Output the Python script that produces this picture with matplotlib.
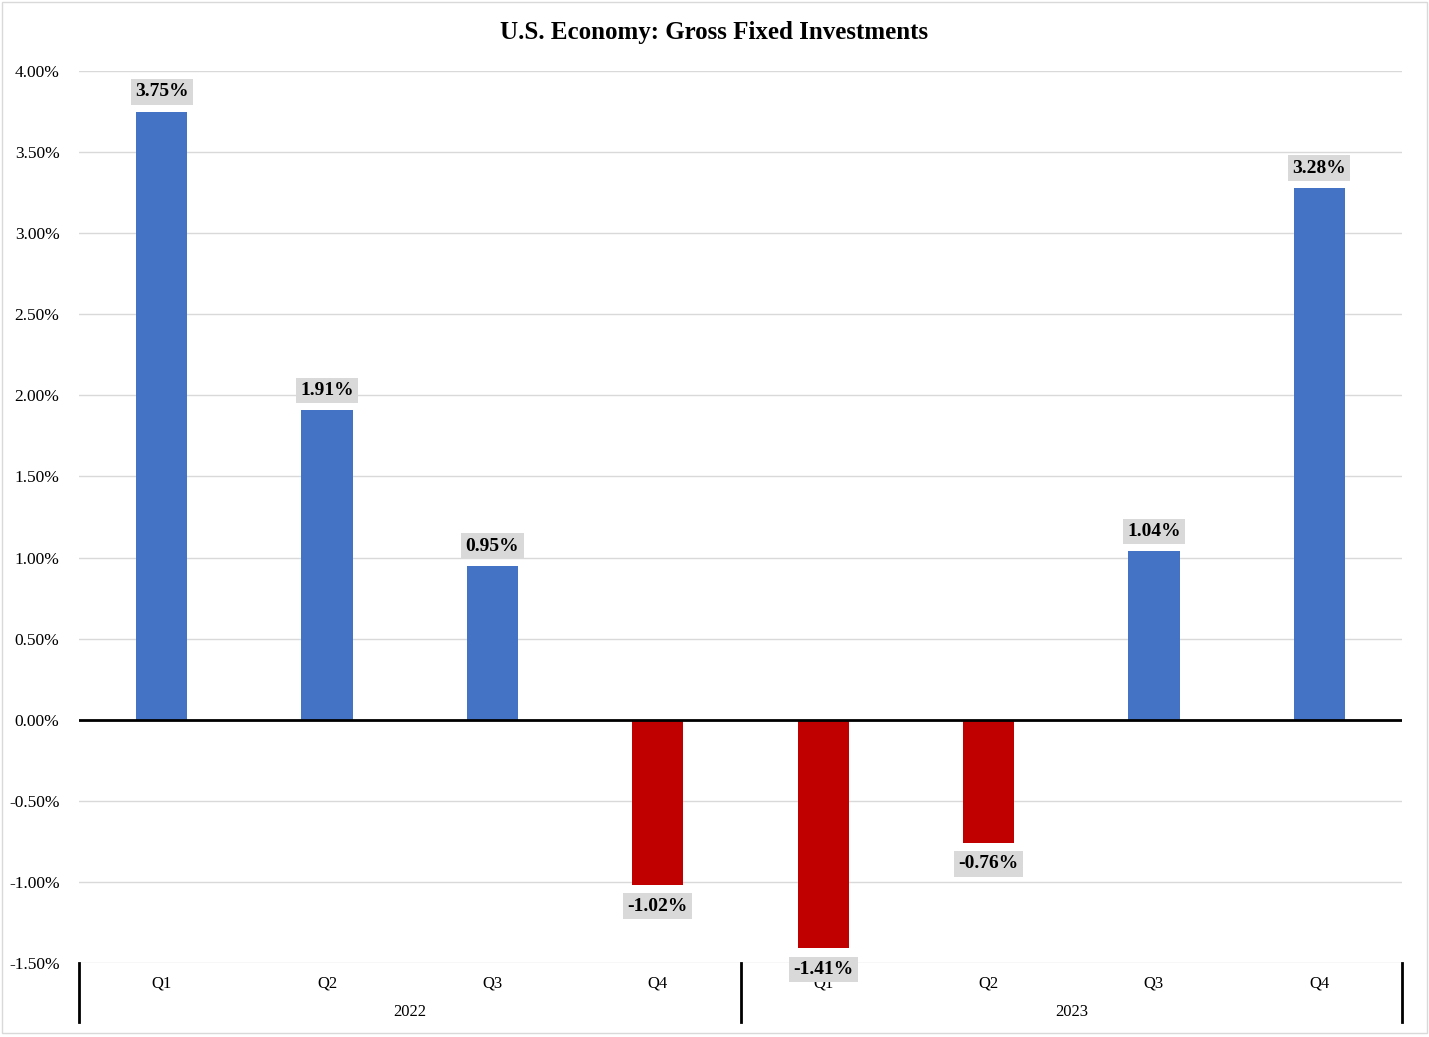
import matplotlib
matplotlib.use("Agg")
import matplotlib.pyplot as plt
from matplotlib.ticker import FuncFormatter
import matplotlib.patches as mpatches

quarters = ["Q1", "Q2", "Q3", "Q4", "Q1", "Q2", "Q3", "Q4"]
years = ["2022", "2023"]
values = [3.75, 1.91, 0.95, -1.02, -1.41, -0.76, 1.04, 3.28]
title = "U.S. Economy: Gross Fixed Investments"

plt.rcParams['font.family'] = ['Liberation Serif', 'DejaVu Serif']

fig = plt.figure(figsize=(14.29, 10.37), dpi=100)
ax = fig.add_axes([79/1429, 1-963/1037, (1402-79)/1429, (963-71)/1037])

x = list(range(len(values)))
colors = ["#4472c4" if v >= 0 else "#c00000" for v in values]
ax.bar(x, values, width=0.31, color=colors, zorder=3)

ax.set_xlim(-0.5, len(values) - 0.5)
ax.set_ylim(-1.5, 4.0)
ax.set_yticks([i * 0.5 for i in range(-3, 9)])
ax.yaxis.set_major_formatter(FuncFormatter(lambda v, p: f"{v:.2f}%"))
ax.tick_params(axis='y', length=0, labelsize=12.5, pad=14)
ax.grid(axis='y', color='#d9d9d9', linewidth=1, zorder=0)
ax.set_xticks([])
for s in ax.spines.values():
    s.set_visible(False)
ax.axhline(0, color='black', linewidth=2, zorder=4)

trans = ax.get_xaxis_transform()
for xi, q in enumerate(quarters):
    ax.text(xi, -20/892, q, transform=trans, ha='center', va='center', fontsize=12, clip_on=False, zorder=1)
for j, yr in enumerate(years):
    ax.text(j * 4 + 1.5, -49/892, yr, transform=trans, ha='center', va='center', fontsize=12, clip_on=False)
for xs in [-0.5, 3.5, 7.5]:
    ax.plot([xs, xs], [0, -59/892], transform=trans, color='black', linewidth=2, clip_on=False)

for xi, v in zip(x, values):
    off = 8 if v >= 0 else -9
    ax.annotate(f"{v:.2f}%", (xi, v), xytext=(0, off), textcoords='offset points',
                ha='center', va='bottom' if v >= 0 else 'top', fontsize=14,
                fontweight='bold', zorder=5,
                bbox=dict(boxstyle='square,pad=0.22', fc='#d9d9d9', ec='none'))

fig.text(714/1429, 1-32/1037, title, ha='center', va='center', fontsize=18, fontweight='bold')

fig.patches.append(mpatches.Rectangle((2/1429, 4/1037), 1425/1429, 1031/1037,
                                      transform=fig.transFigure, fill=False,
                                      ec='#d9d9d9', lw=1))

fig.savefig("out.png", dpi=100)
